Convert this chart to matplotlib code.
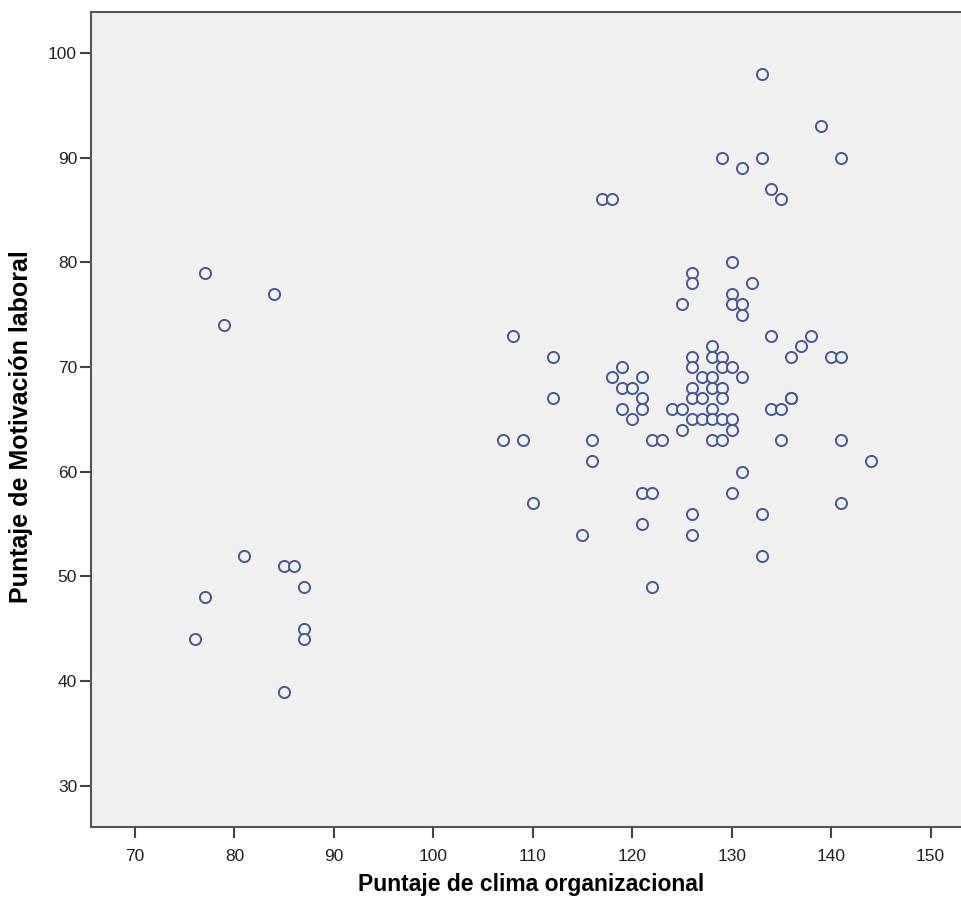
import matplotlib
matplotlib.use("Agg")
import matplotlib.pyplot as plt

# Puntaje de clima organizacional (x) / Puntaje de Motivación laboral (y)
clima = [
    77, 79, 84, 81, 85, 86, 87, 77, 76, 87, 87, 85,
    133, 139, 129, 131, 133, 141, 134, 135, 117, 118,
    130, 126, 126, 132, 130, 125, 130, 131, 131,
    108, 134, 138, 137, 136, 140, 141, 112, 112,
    119, 118, 121, 119, 120, 121, 119, 121, 120, 124, 125, 125,
    128, 126, 128, 129, 126, 129, 130, 127, 128, 131, 126, 128, 129,
    126, 127, 129, 128, 126, 127, 128, 129, 130, 130, 128, 129,
    136, 136, 134, 135, 135, 141, 144,
    107, 109, 116, 116, 122, 123, 110, 121, 122, 121, 115, 122,
    131, 130, 141, 126, 133, 126, 133,
]
motivacion = [
    79, 74, 77, 52, 51, 51, 49, 48, 44, 45, 44, 39,
    98, 93, 90, 89, 90, 90, 87, 86, 86, 86,
    80, 79, 78, 78, 77, 76, 76, 76, 75,
    73, 73, 73, 72, 71, 71, 71, 71, 67,
    70, 69, 69, 68, 68, 67, 66, 66, 65, 66, 66, 64,
    72, 71, 71, 71, 70, 70, 70, 69, 69, 69, 68, 68, 68,
    67, 67, 67, 66, 65, 65, 65, 65, 65, 64, 63, 63,
    67, 67, 66, 66, 63, 63, 61,
    63, 63, 63, 61, 63, 63, 57, 58, 58, 55, 54, 49,
    60, 58, 57, 56, 56, 54, 52,
]

x_ticks = [70, 80, 90, 100, 110, 120, 130, 140, 150]
y_ticks = [30, 40, 50, 60, 70, 80, 90, 100]

plt.rcParams['font.family'] = ['Liberation Sans', 'DejaVu Sans']

fig = plt.figure(figsize=(9.61, 9.13), dpi=100)
ax = fig.add_axes([0.0947, 0.0942, 0.9053, 0.8927])
ax.set_facecolor('#f0f0f0')

ax.scatter(clima, motivacion, s=64, facecolors='#eef2fa',
           edgecolors='#4a5690', linewidths=1.4, zorder=3)

ax.set_xlim(65.58, 153.06)
ax.set_ylim(26.08, 103.9)
ax.set_xticks(x_ticks)
ax.set_yticks(y_ticks)

for side in ['left', 'bottom', 'top']:
    ax.spines[side].set_color('#555555')
    ax.spines[side].set_linewidth(1.5)
ax.spines['right'].set_visible(False)

ax.tick_params(axis='both', direction='out', length=8, width=1.5,
               color='#444444', labelsize=12.5, labelcolor='#222222')
ax.tick_params(axis='x', pad=8)
ax.tick_params(axis='y', pad=2)

ax.set_xlabel('Puntaje de clima organizacional', fontsize=16.5,
              fontweight='bold', va='center', ha='center')
ax.xaxis.set_label_coords(0.506, -0.071)
ax.set_ylabel('Puntaje de Motivación laboral', fontsize=18,
              fontweight='bold', va='center', ha='center')
ax.yaxis.set_label_coords(-0.080, 0.491)

fig.savefig('out.png', dpi=100)
